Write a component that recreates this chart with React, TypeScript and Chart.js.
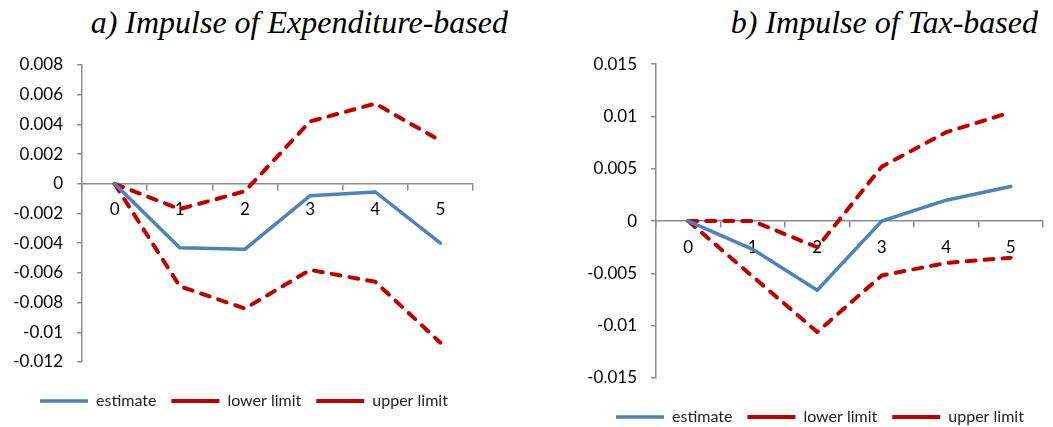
import React, { useEffect, useRef } from "react";
import { Chart, registerables } from "chart.js";

Chart.register(...registerables);

// ---- data ----
const periods = ["0", "1", "2", "3", "4", "5"];
const seriesNames = ["estimate", "lower limit", "upper limit"];

const expEstimate = [0, -0.0043, -0.0044, -0.0008, -0.00055, -0.004];
const expLower = [0, -0.0069, -0.0084, -0.0058, -0.0066, -0.0107];
const expUpper = [0, -0.0017, -0.0005, 0.0042, 0.0054, 0.0029];

const taxEstimate = [0, -0.0027, -0.0066, 0, 0.002, 0.0033];
const taxLower = [0, -0.0053, -0.0106, -0.0052, -0.004, -0.0035];
const taxUpper = [0, 0, -0.0025, 0.0052, 0.0085, 0.0104];

const expAxis = [-0.012, 0.008, 0.002]; // min, max, step
const taxAxis = [-0.015, 0.015, 0.005];

const titles = ["a) Impulse of Expenditure-based", "b) Impulse of Tax-based"];

// ---- styles ----
const BLUE = "#4F81BD";
const RED = "#C00000";
const AXIS = "#8C8C8C";
const FONT = "Lato, 'Open Sans', sans-serif";

type Layout = {
  left: number;
  top: number;
  width: number;
  height: number;
  padding: { left: number; right: number; top: number; bottom: number };
  yWidth: number;
  gap: number;
};

function fmt(v: number) {
  const r = Math.round(v * 1e6) / 1e6;
  return String(r === 0 ? 0 : r);
}

// let the y tick labels use the whole left margin (no clipping at padding edge)
const widenYLabels = {
  id: "widenYLabels",
  afterLayout(chart: any) {
    if (chart.scales.y) chart.scales.y.left = 0;
  },
};

function LineChart(props: {
  est: number[];
  lo: number[];
  up: number[];
  axis: number[];
  layout: Layout;
}) {
  const ref = useRef<HTMLCanvasElement | null>(null);
  useEffect(() => {
    if (!ref.current) return;
    const { est, lo, up, axis, layout } = props;
    const dashed = {
      borderColor: RED,
      backgroundColor: RED,
      borderWidth: 4,
      borderDash: [9, 9],
      borderCapStyle: "round" as const,
      borderJoinStyle: "round" as const,
      pointRadius: 0,
      pointStyle: "line" as const,
      fill: false,
      tension: 0,
    };
    const chart = new Chart(ref.current, {
      type: "line",
      data: {
        labels: periods,
        datasets: [
          {
            label: seriesNames[0],
            data: est,
            borderColor: BLUE,
            backgroundColor: BLUE,
            borderWidth: 3.5,
            borderCapStyle: "round",
            borderJoinStyle: "miter",
            pointRadius: 0,
            pointStyle: "line",
            fill: false,
            tension: 0,
          },
          { label: seriesNames[1], data: lo, ...dashed },
          { label: seriesNames[2], data: up, ...dashed },
        ],
      },
      plugins: [widenYLabels],
      options: {
        animation: false,
        responsive: false,
        maintainAspectRatio: false,
        layout: { padding: layout.padding },
        plugins: {
          tooltip: { enabled: false },
          title: { display: false },
          legend: {
            position: "bottom",
            align: "start",
            labels: {
              usePointStyle: true,
              pointStyle: "line",
              pointStyleWidth: 48,
              padding: 15,
              color: "#222",
              font: { family: FONT, size: 16 },
            },
          },
        },
        scales: {
          x: {
            type: "category",
            position: { y: 0 } as any,
            offset: true,
            grid: {
              offset: true,
              drawOnChartArea: false,
              drawTicks: true,
              tickLength: 6,
              color: AXIS,
              lineWidth: 1.5,
            },
            border: { color: AXIS, width: 1.5 },
            ticks: {
              color: "#000",
              padding: 10,
              maxRotation: 0,
              autoSkip: false,
              font: { family: FONT, size: 17 },
            },
          },
          // empty spacer between plot and legend
          gapAxis: {
            type: "category",
            axis: "x",
            position: "bottom",
            display: true,
            grid: { display: false },
            border: { display: false },
            ticks: { display: false },
            afterFit: (s: any) => {
              s.height = layout.gap;
            },
          } as any,
          y: {
            min: axis[0],
            max: axis[1],
            ticks: {
              stepSize: axis[2],
              color: "#000",
              padding: 14,
              font: { family: FONT, size: 17 },
              callback: (v: any) => fmt(Number(v)),
            },
            grid: {
              drawOnChartArea: false,
              drawTicks: true,
              tickLength: 5,
              color: AXIS,
              lineWidth: 1.5,
            },
            border: { color: AXIS, width: 1.5 },
            afterFit: (s: any) => {
              s.width = layout.yWidth;
            },
          },
        },
      },
    });
    return () => chart.destroy();
  }, []);
  const { layout } = props;
  return (
    <canvas
      ref={ref}
      width={layout.width}
      height={layout.height}
      style={{
        position: "absolute",
        left: layout.left,
        top: layout.top,
        width: layout.width,
        height: layout.height,
      }}
    />
  );
}

const leftLayout: Layout = {
  left: 0,
  top: 40,
  width: 500,
  height: 387,
  padding: { left: 25, right: 27, top: 25, bottom: 8 },
  yWidth: 57,
  gap: 16,
};

const rightLayout: Layout = {
  left: 560,
  top: 40,
  width: 520,
  height: 400,
  padding: { left: 41, right: 37, top: 23, bottom: 5 },
  yWidth: 55,
  gap: 16,
};

const titleStyle: React.CSSProperties = {
  position: "absolute",
  top: 6,
  fontFamily: "'Liberation Serif', 'Times New Roman', serif",
  fontStyle: "italic",
  fontSize: 32,
  lineHeight: "32px",
  whiteSpace: "nowrap",
  color: "#000",
};

export default function App() {
  return (
    <div
      style={{
        position: "absolute",
        left: 0,
        top: 0,
        width: 1053,
        height: 427,
        overflow: "hidden",
        background: "#fff",
      }}
    >
      <div style={{ ...titleStyle, right: 1053 - 508 }}>{titles[0]}</div>
      <div style={{ ...titleStyle, right: 1053 - 1038 }}>{titles[1]}</div>
      <LineChart est={expEstimate} lo={expLower} up={expUpper} axis={expAxis} layout={leftLayout} />
      <LineChart est={taxEstimate} lo={taxLower} up={taxUpper} axis={taxAxis} layout={rightLayout} />
    </div>
  );
}
